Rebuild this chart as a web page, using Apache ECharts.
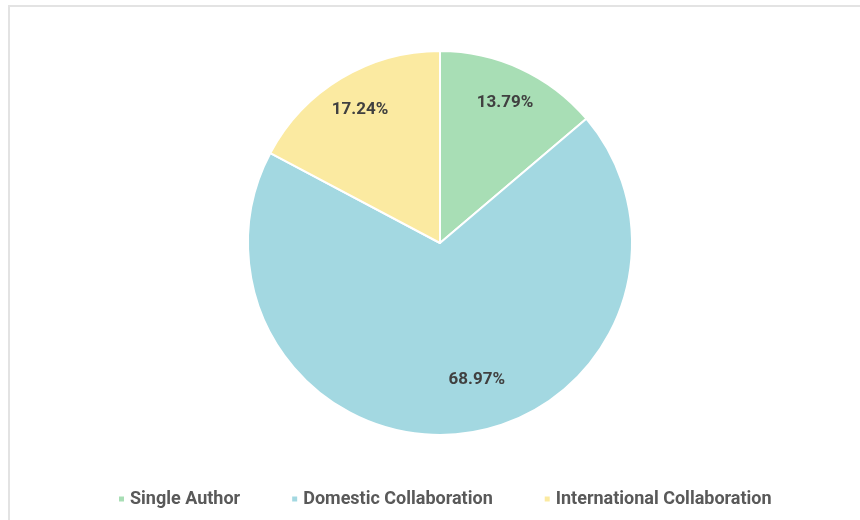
<!DOCTYPE html>
<html>
<head>
<meta charset="utf-8">
<script src="https://cdn.jsdelivr.net/npm/echarts@6/dist/echarts.min.js"></script>
<style>
  html, body { margin: 0; padding: 0; background: #ffffff; }
  #frame {
    position: absolute; left: 8px; top: 5px; width: 852px; height: 515px;
    border-top: 2px solid #e3e3e3; border-left: 2px solid #e3e3e3;
  }
  #pie-chart { position: absolute; left: 0; top: 0; width: 860px; height: 520px; }
</style>
</head>
<body>
<div id="frame"></div>
<div id="pie-chart"></div>
<script>
// chart data
const categories = ['Single Author', 'Domestic Collaboration', 'International Collaboration'];
const counts = [4, 20, 5];
const sliceColors = ['#a8deb5', '#a3d8e1', '#fbeaa1'];

const pieData = categories.map((name, i) => ({
  name: name,
  value: counts[i],
  itemStyle: { color: sliceColors[i] }
}));

let myChart = echarts.init(document.getElementById('pie-chart'));
let option = {
  animation: false,
  legend: {
    bottom: 7,
    left: 112,
    icon: 'rect',
    itemWidth: 7,
    itemHeight: 7,
    itemGap: 50,
    textStyle: {
      fontFamily: 'Roboto, sans-serif',
      fontSize: 18,
      fontWeight: 'bold',
      color: '#595959'
    },
    data: categories
  },
  series: [
    {
      type: 'pie',
      center: [440, 243],
      radius: 192,
      startAngle: 90,
      clockwise: true,
      itemStyle: { borderColor: '#ffffff', borderWidth: 2 },
      label: { show: false },
      labelLine: { show: false },
      emphasis: { disabled: true },
      data: pieData
    },
    {
      // transparent ring, only used to place the percentage labels
      type: 'pie',
      center: [440, 243],
      radius: [112, 192],
      startAngle: 90,
      clockwise: true,
      silent: true,
      itemStyle: { color: 'rgba(0,0,0,0)' },
      label: {
        show: true,
        position: 'inside',
        formatter: p => p.percent.toFixed(2) + '%',
        fontFamily: 'Roboto, Arial, sans-serif',
        fontSize: 17,
        fontWeight: 'bold',
        color: '#404040'
      },
      labelLayout: function (params) {
        if (params.dataIndex === 1) return { dx: 20, dy: -17 };
        return {};
      },
      labelLine: { show: false },
      emphasis: { disabled: true },
      data: categories.map((name, i) => ({ name: name, value: counts[i] }))
    }
  ]
};
myChart.setOption(option);
</script>
</body>
</html>
